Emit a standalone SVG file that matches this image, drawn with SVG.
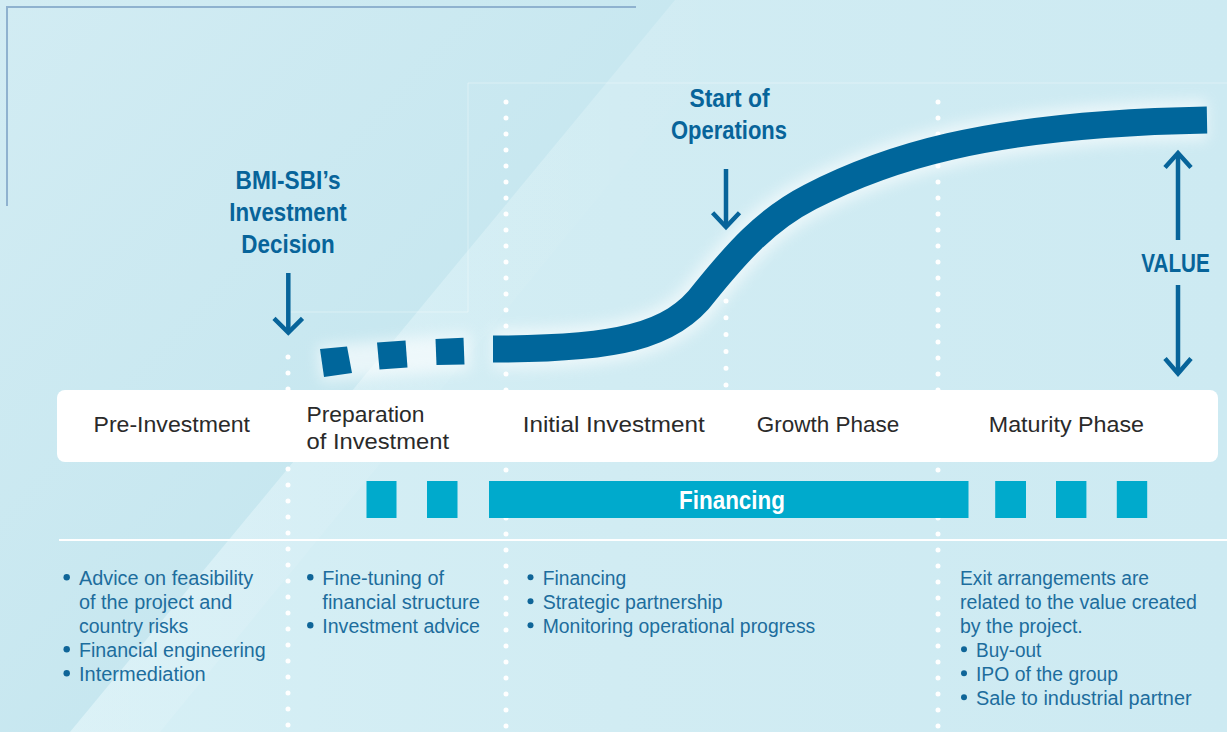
<svg xmlns="http://www.w3.org/2000/svg" width="1227" height="732" viewBox="0 0 1227 732">
  <defs>
    <linearGradient id="bgL" x1="0" y1="0" x2="1" y2="1">
      <stop offset="0" stop-color="#d2ecf3"/>
      <stop offset="1" stop-color="#bee3ed"/>
    </linearGradient>
    <linearGradient id="bgR" x1="0" y1="0.5" x2="1" y2="0.5">
      <stop offset="0" stop-color="#d7f0f6"/>
      <stop offset="0.5" stop-color="#d1ecf3"/>
      <stop offset="1" stop-color="#cdeaf2"/>
    </linearGradient>
    <linearGradient id="band" x1="0" y1="0.5" x2="1" y2="0.5">
      <stop offset="0" stop-color="#ffffff" stop-opacity="0.12"/>
      <stop offset="1" stop-color="#ffffff" stop-opacity="0"/>
    </linearGradient>
    <filter id="glow" x="-10%" y="-20%" width="120%" height="140%">
      <feGaussianBlur stdDeviation="7"/>
    </filter>
    <style>
      .head { font-family: "Liberation Sans Narrow", "Liberation Sans", Arial, sans-serif; font-weight: bold; font-size: 26px; fill: #07649a; }
      .phase { font-family: "Liberation Sans", Arial, sans-serif; font-size: 22px; fill: #2a2a2a; }
      .body { font-family: "Liberation Sans", Arial, sans-serif; font-size: 20px; fill: #1d6d9d; }
      .bul { fill: #0f6598; }
      .dots { stroke: #ffffff; stroke-width: 5; stroke-linecap: round; fill: none; }
      .arrow { stroke: #07649a; stroke-width: 4.5; fill: none; stroke-linecap: butt; stroke-linejoin: miter; }
      .fin { fill: #00aacc; }
      .blue { fill: #00669b; }
    </style>
  </defs>

  <!-- background -->
  <rect x="0" y="0" width="1227" height="732" fill="url(#bgR)"/>
  <polygon points="0,0 675,0 70,732 0,732" fill="url(#bgL)"/>
  <polygon points="675,0 760,0 160,732 70,732" fill="url(#band)"/>

  <!-- frame lines -->
  <path d="M7,206 V7 H636" fill="none" stroke="#8fb2cf" stroke-width="2"/>
  <path d="M290,312 H468 V83 H1227" fill="none" stroke="#ffffff" stroke-opacity="0.35" stroke-width="1"/>

  <!-- dotted guides -->
  <g id="guides">
    <line class="dots" x1="288" y1="357" x2="288" y2="732" stroke-dasharray="0 16"/>
    <line class="dots" x1="506" y1="102" x2="506" y2="732" stroke-dasharray="0 16"/>
    <line class="dots" x1="938" y1="102" x2="938" y2="732" stroke-dasharray="0 16"/>
    <line class="dots" x1="726" y1="301" x2="726" y2="387" stroke-dasharray="0 16.8"/>
  </g>

  <!-- value curve -->
  <g id="value-curve">
    <g filter="url(#glow)" opacity="0.6">
      <path d="M493,349 C615,349 672,337 705,292 C735,255 765,220 810,197 C880,161 980,124 1207,120" fill="none" stroke="#ffffff" stroke-width="40"/>
      <polygon points="318,346 470,333 470,370 321,381" fill="#ffffff"/>
    </g>
    <polygon class="blue" points="320,349 347,346.5 352,373 324,377"/>
    <polygon class="blue" points="377,342.5 405.5,340.5 407.5,367.5 379.5,369.5"/>
    <polygon class="blue" points="435.5,339 463.5,337.7 464.5,364.5 436.5,365"/>
    <path d="M493,349 C615,349 672,337 705,292 C735,255 765,220 810,197 C880,161 980,124 1207,120" fill="none" stroke="#00669b" stroke-width="27"/>
  </g>

  <!-- phase bar -->
  <g id="phases">
    <rect x="57" y="390" width="1161" height="72" rx="8" fill="#ffffff"/>
    <text class="phase" x="93.5" y="431.5" textLength="156.5" lengthAdjust="spacingAndGlyphs">Pre-Investment</text>
    <text class="phase" x="306.5" y="421.5" textLength="118" lengthAdjust="spacingAndGlyphs">Preparation</text>
    <text class="phase" x="306.5" y="448.5" textLength="142.5" lengthAdjust="spacingAndGlyphs">of Investment</text>
    <text class="phase" x="522.7" y="431.5" textLength="182" lengthAdjust="spacingAndGlyphs">Initial Investment</text>
    <text class="phase" x="756.8" y="431.5" textLength="142.4" lengthAdjust="spacingAndGlyphs">Growth Phase</text>
    <text class="phase" x="988.8" y="431.5" textLength="155.2" lengthAdjust="spacingAndGlyphs">Maturity Phase</text>
  </g>

  <!-- financing bar -->
  <g id="financing">
    <rect class="fin" x="366.5" y="481" width="30" height="37"/>
    <rect class="fin" x="427" y="481" width="30.5" height="37"/>
    <rect class="fin" x="489" y="481" width="479.5" height="37"/>
    <rect class="fin" x="995.2" y="481" width="30.8" height="37"/>
    <rect class="fin" x="1056" y="481" width="30.4" height="37"/>
    <rect class="fin" x="1116.8" y="481" width="30.4" height="37"/>
    <text class="head" x="732" y="508.5" text-anchor="middle" style="fill:#ffffff;font-size:25px" textLength="106" lengthAdjust="spacingAndGlyphs">Financing</text>
  </g>

  <line x1="59" y1="540" x2="1227" y2="540" stroke="#ffffff" stroke-width="2"/>

  <!-- milestone labels -->
  <g id="bmi-decision">
    <text class="head" x="288" y="188.5" text-anchor="middle" textLength="105" lengthAdjust="spacingAndGlyphs">BMI-SBI’s</text>
    <text class="head" x="288" y="220.5" text-anchor="middle" textLength="117.5" lengthAdjust="spacingAndGlyphs">Investment</text>
    <text class="head" x="288" y="252.5" text-anchor="middle" textLength="93.5" lengthAdjust="spacingAndGlyphs">Decision</text>
  </g>
  <g id="start-operations">
    <text class="head" x="729.5" y="107" text-anchor="middle" textLength="80" lengthAdjust="spacingAndGlyphs">Start of</text>
    <text class="head" x="729" y="138.5" text-anchor="middle" textLength="116" lengthAdjust="spacingAndGlyphs">Operations</text>
  </g>
  <g id="value-label">
    <text class="head" x="1175.5" y="271.5" text-anchor="middle" style="font-size:25px" textLength="68.5" lengthAdjust="spacingAndGlyphs">VALUE</text>
  </g>

  <!-- connectors -->
  <g id="connectors">
    <path class="arrow" d="M288.3,273 V331"/>
    <path class="arrow" d="M274,318.3 L288.3,332.5 L302.5,318.3"/>
    <path class="arrow" d="M726,169 V226"/>
    <path class="arrow" d="M712.6,212.7 L726,227 L739.5,212.7"/>
    <path class="arrow" d="M1178,240 V154"/>
    <path class="arrow" d="M1165,167.5 L1178,153 L1191,167.5"/>
    <path class="arrow" d="M1178,285 V373"/>
    <path class="arrow" d="M1165,358.5 L1178,373.5 L1191,358.5"/>
  </g>

  <!-- descriptions -->
  <g id="col-pre-investment">
    <circle class="bul" cx="66.7" cy="577.3" r="3.2"/>
    <text class="body" x="79" y="584.5" textLength="174.3" lengthAdjust="spacingAndGlyphs">Advice on feasibility</text>
    <text class="body" x="79" y="608.5" textLength="153.3" lengthAdjust="spacingAndGlyphs">of the project and</text>
    <text class="body" x="79" y="632.5" textLength="109.3" lengthAdjust="spacingAndGlyphs">country risks</text>
    <circle class="bul" cx="66.7" cy="649.3" r="3.2"/>
    <text class="body" x="79" y="656.5" textLength="186.7" lengthAdjust="spacingAndGlyphs">Financial engineering</text>
    <circle class="bul" cx="66.7" cy="673.3" r="3.2"/>
    <text class="body" x="79" y="680.5" textLength="126.7" lengthAdjust="spacingAndGlyphs">Intermediation</text>
  </g>
  <g id="col-preparation">
    <circle class="bul" cx="310.3" cy="577.3" r="3.2"/>
    <text class="body" x="322.3" y="584.5" textLength="121.7" lengthAdjust="spacingAndGlyphs">Fine-tuning of</text>
    <text class="body" x="322.3" y="608.5" textLength="157.7" lengthAdjust="spacingAndGlyphs">financial structure</text>
    <circle class="bul" cx="310.3" cy="625.3" r="3.2"/>
    <text class="body" x="322.3" y="632.5" textLength="157.7" lengthAdjust="spacingAndGlyphs">Investment advice</text>
  </g>
  <g id="col-initial">
    <circle class="bul" cx="530.5" cy="577.3" r="3"/>
    <text class="body" x="542.7" y="584.5" textLength="83.4" lengthAdjust="spacingAndGlyphs">Financing</text>
    <circle class="bul" cx="530.5" cy="601.3" r="3"/>
    <text class="body" x="542.7" y="608.5" textLength="180" lengthAdjust="spacingAndGlyphs">Strategic partnership</text>
    <circle class="bul" cx="530.5" cy="625.3" r="3"/>
    <text class="body" x="542.7" y="632.5" textLength="272.6" lengthAdjust="spacingAndGlyphs">Monitoring operational progress</text>
  </g>
  <g id="col-maturity">
    <text class="body" x="960" y="584.5" textLength="189" lengthAdjust="spacingAndGlyphs">Exit arrangements are</text>
    <text class="body" x="960" y="608.5" textLength="236.9" lengthAdjust="spacingAndGlyphs">related to the value created</text>
    <text class="body" x="960" y="632.5" textLength="122.8" lengthAdjust="spacingAndGlyphs">by the project.</text>
    <circle class="bul" cx="964" cy="649.3" r="3"/>
    <text class="body" x="976" y="656.5" textLength="65.4" lengthAdjust="spacingAndGlyphs">Buy-out</text>
    <circle class="bul" cx="964" cy="673.3" r="3"/>
    <text class="body" x="976" y="680.5" textLength="141.9" lengthAdjust="spacingAndGlyphs">IPO of the group</text>
    <circle class="bul" cx="964" cy="697.3" r="3"/>
    <text class="body" x="976" y="704.5" textLength="215.6" lengthAdjust="spacingAndGlyphs">Sale to industrial partner</text>
  </g>
</svg>
